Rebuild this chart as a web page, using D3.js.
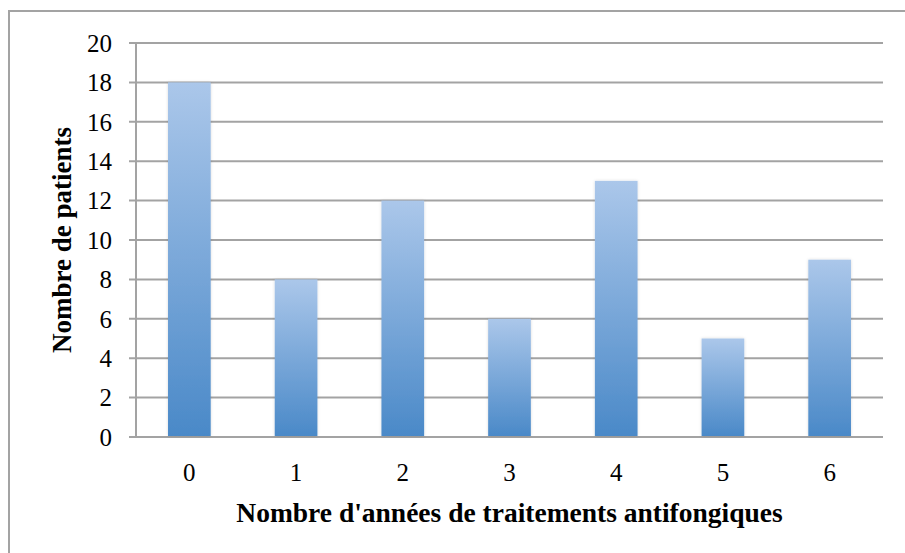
<!DOCTYPE html>
<html><head><meta charset="utf-8">
<script src="https://cdn.jsdelivr.net/npm/d3@7"></script>
<style>html,body{margin:0;padding:0;background:#fff;}</style>
</head><body>
<svg id="chart" width="905" height="553"></svg>
<script>
const categories = ["0","1","2","3","4","5","6"];
const values = [18, 8, 12, 6, 13, 5, 9];
const yTicks = [0,2,4,6,8,10,12,14,16,18,20];
const xTitle = "Nombre d'années de traitements antifongiques";
const yTitle = "Nombre de patients";

const svg = d3.select("#chart");
const W = 905, H = 553;
const m = {left:136, right:22, top:43, bottom:116};
const x = d3.scaleBand().domain(categories).range([m.left, W - m.right]).paddingInner(0.6).paddingOuter(0.3);
const y = d3.scaleLinear().domain([0,20]).range([H - m.bottom, m.top]);

// outer border (top and left)
svg.append("path").attr("d", `M9,${H} V11 H${W}`).attr("fill","none").attr("stroke","#a3a3a3").attr("stroke-width",2);

const defs = svg.append("defs");
const g = defs.append("linearGradient").attr("id","barGrad").attr("x1",0).attr("y1",0).attr("x2",0).attr("y2",1);
g.append("stop").attr("offset","0%").attr("stop-color","#abc7ea");
g.append("stop").attr("offset","100%").attr("stop-color","#4a89c8");
const f = defs.append("filter").attr("id","sh").attr("x","-20%").attr("y","-5%").attr("width","140%").attr("height","110%");
f.append("feDropShadow").attr("dx",0).attr("dy",0).attr("stdDeviation",1.5).attr("flood-color","#000").attr("flood-opacity",0.15);

// gridlines
svg.append("g").selectAll("line").data(yTicks).join("line")
  .attr("x1", m.left - 7).attr("x2", W - m.right)
  .attr("y1", d => y(d)).attr("y2", d => y(d))
  .attr("stroke", "#a3a3a3").attr("stroke-width", 2);

// y axis line
svg.append("line").attr("x1", m.left).attr("x2", m.left).attr("y1", y(20)).attr("y2", y(0))
  .attr("stroke","#a3a3a3").attr("stroke-width",2);

// bars
svg.append("g").selectAll("rect").data(values).join("rect")
  .attr("x", (d,i) => x(categories[i]))
  .attr("width", x.bandwidth())
  .attr("y", d => y(d))
  .attr("height", d => y(0) - y(d) - 1)
  .attr("fill", "url(#barGrad)")
  .attr("filter","url(#sh)");

// y tick labels
svg.append("g").selectAll("text").data(yTicks).join("text")
  .attr("x", 112).attr("y", d => y(d)).attr("dy","0.35em")
  .attr("text-anchor","end")
  .attr("font-family","'Liberation Serif', serif").attr("font-size",25).attr("fill","#000")
  .text(d => d);

// x tick labels
svg.append("g").selectAll("text").data(categories).join("text")
  .attr("x", d => x(d) + x.bandwidth()/2).attr("y", 472).attr("dy","0.35em")
  .attr("text-anchor","middle")
  .attr("font-family","'Liberation Serif', serif").attr("font-size",25).attr("fill","#000")
  .text(d => d);

// titles
svg.append("text").attr("x", (m.left + W - m.right)/2).attr("y", 512).attr("dy","0.35em")
  .attr("text-anchor","middle").attr("font-family","'Liberation Serif', serif").attr("font-weight","bold")
  .attr("font-size",27.5).text(xTitle);
svg.append("text").attr("transform", `translate(62,${(y(0)+y(20))/2}) rotate(-90)`).attr("dy","0.35em")
  .attr("text-anchor","middle").attr("font-family","'Liberation Serif', serif").attr("font-weight","bold")
  .attr("font-size",27).text(yTitle);
</script>
</body></html>
